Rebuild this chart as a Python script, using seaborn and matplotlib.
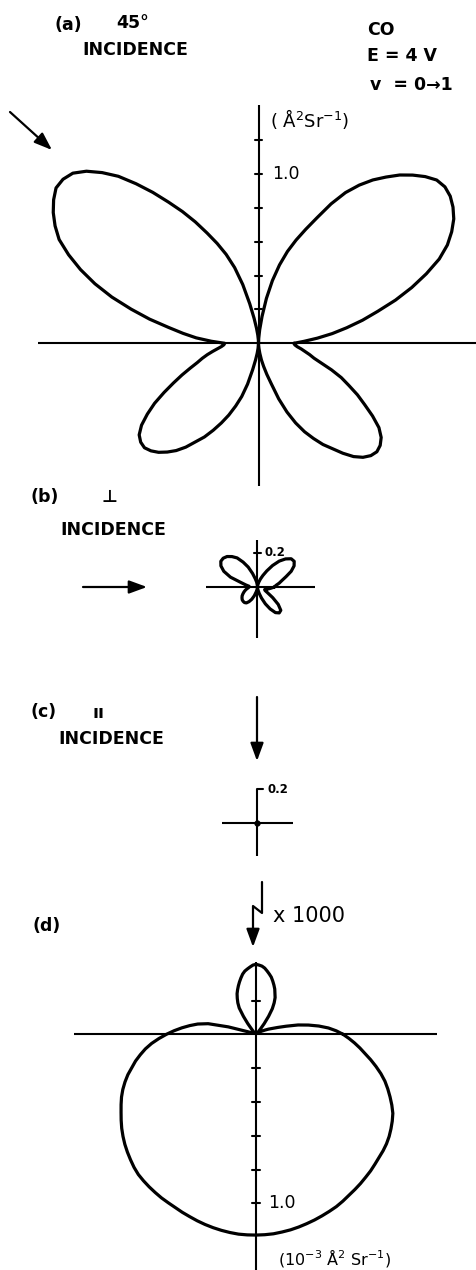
import numpy as np
import pandas as pd
import matplotlib
matplotlib.use("Agg")
import matplotlib.pyplot as plt
import seaborn as sns

# Differential cross sections for vibrational excitation v = 0 -> 1 of CO
# (E = 4 V).  Angles are measured counter-clockwise from the +x direction.
# Units: A^2 sr^-1 (panel d: 1e-3 A^2 sr^-1).
angles_fine_deg = [i * 2.5 for i in range(145)]   # 0 .. 360 in 2.5 deg steps
angles_coarse_deg = [i * 5.0 for i in range(73)]  # 0 .. 360 in 5 deg steps

r_oblique = [  # (a) 45 degree incidence, 2.5 deg steps
    # 0 .. 90
    0.21, 0.27, 0.35, 0.44, 0.53, 0.63, 0.73, 0.85, 0.965, 1.075,
    1.18, 1.26, 1.32, 1.37, 1.405, 1.43, 1.44, 1.43, 1.395, 1.35,
    1.30, 1.24, 1.18, 1.11, 1.03, 0.93, 0.82, 0.73, 0.65, 0.57,
    0.48, 0.38, 0.27, 0.16, 0.08, 0.03, 0.00,
    # 92.5 .. 180
    0.02, 0.05, 0.09, 0.15, 0.24, 0.36, 0.47, 0.56, 0.64, 0.72,
    0.81, 0.90, 0.99, 1.09, 1.19, 1.29, 1.37, 1.44, 1.49, 1.51,
    1.51, 1.48, 1.44, 1.39, 1.33, 1.24, 1.14, 1.03, 0.91, 0.78,
    0.66, 0.54, 0.45, 0.37, 0.28, 0.20,
    # 182.5 .. 270
    0.205, 0.22, 0.245, 0.275, 0.31, 0.345, 0.38, 0.43, 0.49, 0.555,
    0.63, 0.71, 0.78, 0.845, 0.89, 0.91, 0.915, 0.90, 0.875, 0.84,
    0.80, 0.75, 0.69, 0.64, 0.58, 0.52, 0.46, 0.395, 0.33, 0.25,
    0.16, 0.10, 0.06, 0.03, 0.01, 0.00,
    # 272.5 .. 360
    0.01, 0.03, 0.06, 0.10, 0.14, 0.19, 0.25, 0.35, 0.44, 0.52,
    0.59, 0.65, 0.71, 0.76, 0.82, 0.875, 0.915, 0.94, 0.95, 0.94,
    0.915, 0.87, 0.80, 0.725, 0.66, 0.59, 0.53, 0.46, 0.39, 0.34,
    0.31, 0.28, 0.255, 0.23, 0.215, 0.21,
]

r_perpendicular = [  # (b) perpendicular incidence, 5 deg steps
    0.10, 0.11, 0.13, 0.15, 0.18, 0.22, 0.25, 0.265, 0.26, 0.235,
    0.20, 0.155, 0.11, 0.075, 0.05, 0.03, 0.015, 0.005, 0.00, 0.01,
    0.03, 0.05, 0.085, 0.13, 0.17, 0.21, 0.235, 0.255, 0.265, 0.265,
    0.25, 0.22, 0.17, 0.10, 0.07, 0.05, 0.05, 0.055, 0.065, 0.075,
    0.085, 0.095, 0.105, 0.112, 0.118, 0.12, 0.12, 0.115, 0.10, 0.08,
    0.055, 0.03, 0.015, 0.005, 0.00, 0.01, 0.02, 0.04, 0.07, 0.11,
    0.15, 0.185, 0.20, 0.195, 0.16, 0.11, 0.07, 0.05, 0.045, 0.05,
    0.065, 0.08, 0.10,
]

r_parallel_x1000 = [  # (d) parallel incidence, magnified x1000, 2.5 deg steps
    # 0 .. 90
    0.515, 0.475, 0.43, 0.375, 0.315, 0.255, 0.185, 0.135, 0.10, 0.08,
    0.06, 0.045, 0.035, 0.025, 0.02, 0.015, 0.01, 0.01, 0.01, 0.02,
    0.04, 0.08, 0.13, 0.18, 0.215, 0.245, 0.265, 0.29, 0.31, 0.33,
    0.35, 0.365, 0.38, 0.395, 0.405, 0.41, 0.414,
    # 92.5 .. 180
    0.41, 0.40, 0.39, 0.38, 0.365, 0.345, 0.325, 0.305, 0.285, 0.265,
    0.24, 0.215, 0.185, 0.13, 0.08, 0.04, 0.02, 0.01, 0.01, 0.01,
    0.01, 0.01, 0.01, 0.015, 0.015, 0.02, 0.02, 0.02, 0.05, 0.17,
    0.29, 0.35, 0.395, 0.44, 0.485, 0.53,
    # 182.5 .. 270
    0.575, 0.62, 0.66, 0.695, 0.73, 0.76, 0.795, 0.825, 0.853, 0.878,
    0.90, 0.922, 0.946, 0.97, 0.992, 1.013, 1.032, 1.05, 1.068, 1.083,
    1.093, 1.102, 1.11, 1.118, 1.124, 1.131, 1.14, 1.148, 1.157, 1.165,
    1.172, 1.178, 1.183, 1.187, 1.188, 1.188,
    # 272.5 .. 360
    1.187, 1.185, 1.18, 1.175, 1.168, 1.16, 1.152, 1.143, 1.134, 1.125,
    1.113, 1.10, 1.089, 1.078, 1.066, 1.055, 1.042, 1.03, 1.02, 1.008,
    0.993, 0.975, 0.956, 0.935, 0.906, 0.875, 0.844, 0.812, 0.775, 0.735,
    0.695, 0.655, 0.62, 0.585, 0.55, 0.515,
]

W, H, DPI = 476, 1270, 100
S = 169.0  # pixels per cross-section unit

sns.set_style("white")
plt.rcParams["font.family"] = ["DejaVu Sans"]
plt.rcParams["text.color"] = "black"

fig = plt.figure(figsize=(W / DPI, H / DPI), dpi=DPI)
fig.patch.set_facecolor("white")


def make_panel(top, bottom, ox, oy):
    """Axes spanning a horizontal band of the figure with its origin at (ox, oy) px."""
    ax = fig.add_axes([0, 1 - bottom / H, 1, (bottom - top) / H])
    ax.set_xlim(-ox / S, (W - ox) / S)
    ax.set_ylim((oy - bottom) / S, (oy - top) / S)
    ax.axis("off")
    return ax


def lobe(ax, angles, radii):
    th = np.deg2rad(np.array(angles, dtype=float))
    r = np.array(radii, dtype=float)
    df = pd.DataFrame({"x": r * np.cos(th), "y": r * np.sin(th)})
    sns.lineplot(data=df, x="x", y="y", sort=False, estimator=None,
                 color="black", lw=2.3, ax=ax)
    ax.set_xlabel("")
    ax.set_ylabel("")


def cross(ax, x0, x1, y0, y1, ticks=(), half=0.022, lw=1.5):
    ax.plot([x0, x1], [0, 0], color="black", lw=lw, solid_capstyle="butt")
    ax.plot([0, 0], [y0, y1], color="black", lw=lw, solid_capstyle="butt")
    for t in ticks:
        ax.plot([-half, half], [t, t], color="black", lw=lw)


# (a) 45 degree incidence
ax_a = make_panel(0, 492, 258.5, 343.3)
cross(ax_a, -1.305, 1.40, -0.844, 1.41, ticks=[0.2, 0.4, 0.6, 0.8, 1.0, 1.2])
lobe(ax_a, angles_fine_deg, r_oblique)
ax_a.text(0.08, 1.0, "1.0", fontsize=12.5, va="center", ha="left")
ax_a.text(0.066, 1.33, "( Å$^2$Sr$^{-1}$)", fontsize=13, va="center", ha="left")

# (b) perpendicular incidence
ax_b = make_panel(492, 680, 257.5, 587)
cross(ax_b, -0.305, 0.34, -0.302, 0.278, ticks=[0.2], half=0.018)
lobe(ax_b, angles_coarse_deg, r_perpendicular)
ax_b.text(0.042, 0.205, "0.2", fontsize=8.5, fontweight="bold", va="center", ha="left")

# (c) parallel incidence (cross section too small to show)
ax_c = make_panel(680, 870, 257, 823)
cross(ax_c, -0.207, 0.213, -0.195, 0.2)
ax_c.plot([0, 0.035], [0.2, 0.2], color="black", lw=1.5)
ax_c.plot([0], [0], "o", color="black", ms=3.5)
ax_c.text(0.065, 0.2, "0.2", fontsize=8.5, fontweight="bold", va="center", ha="left")

# (d) parallel incidence, magnified
ax_d = make_panel(870, 1270, 256, 1034.3)
cross(ax_d, -1.077, 1.071, -1.45, 0.428, ticks=[0.2, -0.2, -0.4, -0.6, -0.8, -1.0])
lobe(ax_d, angles_fine_deg, r_parallel_x1000)
ax_d.text(0.07, -1.0, "1.0", fontsize=12.5, va="center", ha="left")
ax_d.text(0.13, -1.325, "(10$^{-3}$ Å$^2$ Sr$^{-1}$)", fontsize=11.5, va="center", ha="left")

# Overlay in pixel coordinates for labels and incidence arrows
deco = fig.add_axes([0, 0, 1, 1])
deco.set_xlim(0, W)
deco.set_ylim(H, 0)
deco.axis("off")
deco.patch.set_alpha(0)

lab = dict(fontsize=12.5, fontweight="bold", va="center", ha="left")
deco.text(55, 25, "(a)", **lab)
deco.text(116, 23, "45°", **lab)
deco.text(82, 50, "INCIDENCE", **lab)
deco.text(367, 30, "CO", **lab)
deco.text(367, 56, "E = 4 V", **lab)
deco.text(370, 85, "v  = 0→1", **lab)

deco.text(30, 497, "(b)", **lab)
deco.text(102, 497, "⊥", **lab)
deco.text(60, 530, "INCIDENCE", **lab)

deco.text(30, 712, "(c)", **lab)
deco.text(92, 713, "ıı", **lab)
deco.text(58, 739, "INCIDENCE", **lab)

deco.text(33, 926, "(d)", **lab)
deco.text(273, 916, "x 1000", fontsize=15, va="center", ha="left")

arrow = dict(arrowstyle="-|>,head_length=0.6,head_width=0.22", color="black",
             lw=1.6, shrinkA=0, shrinkB=0, mutation_scale=18)
deco.annotate("", xy=(52, 150), xytext=(10, 112), arrowprops=arrow)
deco.annotate("", xy=(147, 587), xytext=(83, 587), arrowprops=arrow)
deco.annotate("", xy=(257, 761), xytext=(257, 697), arrowprops=arrow)
deco.plot([262, 262, 253, 253], [882, 913, 906, 932], color="black", lw=1.6)
deco.annotate("", xy=(253, 947), xytext=(253, 928), arrowprops=arrow)

fig.savefig("out.png", dpi=DPI, facecolor="white")
